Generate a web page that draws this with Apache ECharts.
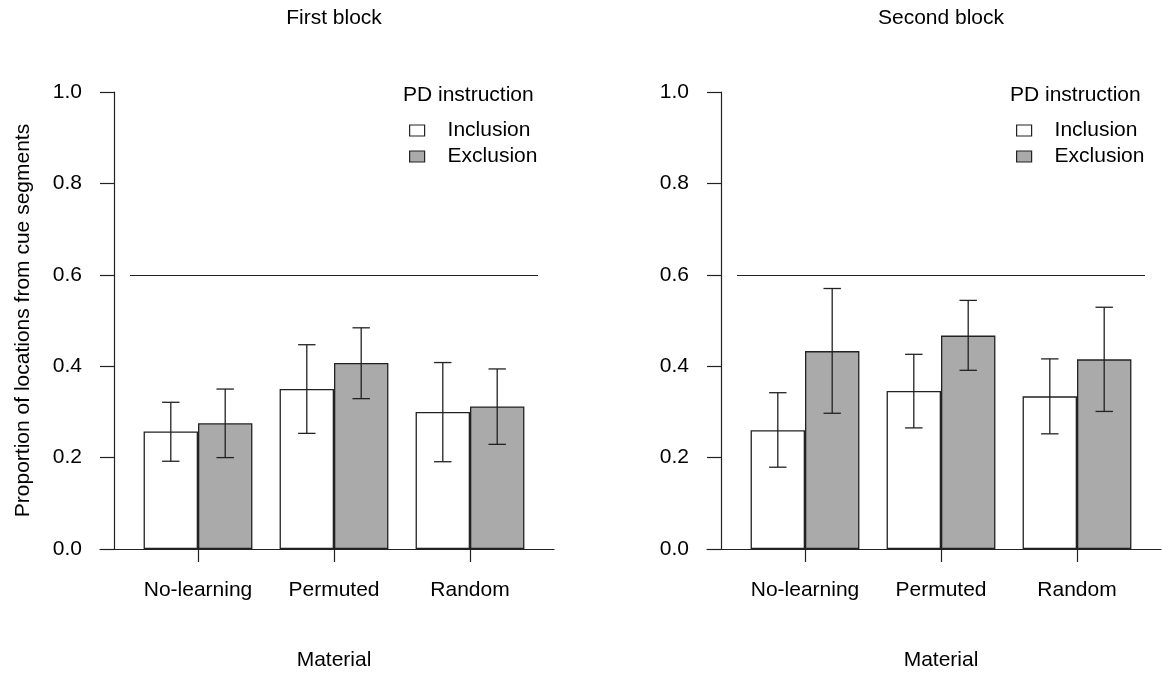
<!DOCTYPE html>
<html><head><meta charset="utf-8">
<script src="https://cdn.jsdelivr.net/npm/echarts@6/dist/echarts.min.js"></script>
<style>html,body{margin:0;padding:0;background:#fff}#c{width:1163px;height:673px}</style>
</head><body><div id="c"></div>
<script>
const categories = ['No-learning', 'Permuted', 'Random'];
const panelTitles = ['First block', 'Second block'];
const legendTitle = 'PD instruction';
const seriesNames = ['Inclusion', 'Exclusion'];
const chanceLevel = 0.6;

// First block
const b1Inclusion = [0.257, 0.350, 0.300];
const b1InclusionLow = [0.192, 0.253, 0.191];
const b1InclusionHigh = [0.321, 0.447, 0.408];
const b1Exclusion = [0.275, 0.407, 0.312];
const b1ExclusionLow = [0.200, 0.329, 0.229];
const b1ExclusionHigh = [0.350, 0.484, 0.394];
// Second block
const b2Inclusion = [0.260, 0.346, 0.334];
const b2InclusionLow = [0.179, 0.265, 0.252];
const b2InclusionHigh = [0.342, 0.426, 0.416];
const b2Exclusion = [0.433, 0.467, 0.415];
const b2ExclusionLow = [0.297, 0.391, 0.301];
const b2ExclusionHigh = [0.570, 0.544, 0.529];

const FONT = '"Liberation Sans", Arial, Helvetica, sans-serif';
const FS = 21;
const INK = '#222';

function errData(low, high, w) {
  return low.map((v, i) => [i, v, high[i], w]);
}
function errRender(params, api) {
  const i = api.value(0), w = api.value(3);
  const band = api.size([1, 0])[0];
  const lo = api.coord([i, api.value(1)]);
  const hi = api.coord([i, api.value(2)]);
  const x = lo[0] + (w === 0 ? -0.2 : 0.2) * band;
  const cap = band * 0.064;
  const style = { stroke: INK, lineWidth: 1.3, fill: null };
  return { type: 'group', children: [
    { type: 'line', shape: { x1: x, y1: hi[1], x2: x, y2: lo[1] }, style },
    { type: 'line', shape: { x1: x - cap, y1: hi[1], x2: x + cap, y2: hi[1] }, style },
    { type: 'line', shape: { x1: x - cap, y1: lo[1], x2: x + cap, y2: lo[1] }, style }
  ]};
}

const panels = [
  { off: 0, inc: b1Inclusion, incLo: b1InclusionLow, incHi: b1InclusionHigh,
    exc: b1Exclusion, excLo: b1ExclusionLow, excHi: b1ExclusionHigh, yName: 'Proportion of locations from cue segments' },
  { off: 607, inc: b2Inclusion, incLo: b2InclusionLow, incHi: b2InclusionHigh,
    exc: b2Exclusion, excLo: b2ExclusionLow, excHi: b2ExclusionHigh, yName: '' }
];

const grid = [], xAxis = [], yAxis = [], series = [], title = [], legend = [];
const txt = { fontFamily: FONT, fontSize: FS, color: '#000', fontWeight: 'normal' };

panels.forEach((p, k) => {
  const g = k * 2;
  grid.push({ left: 130 + p.off, top: 92, width: 408, height: 457, outerBoundsMode: 'none', containLabel: false });
  grid.push({ left: 100 + p.off, top: 92, width: 454, height: 457, outerBoundsMode: 'none', containLabel: false });
  xAxis.push({
    type: 'category', gridIndex: g, data: categories, boundaryGap: true,
    axisLine: { show: true, onZero: false, lineStyle: { color: INK, width: 1.2 } },
    axisTick: { show: true, alignWithLabel: true, length: 13, lineStyle: { color: INK, width: 1.2 } },
    axisLabel: { ...txt, margin: 31, interval: 0 },
    splitLine: { show: false },
    name: 'Material', nameLocation: 'middle', nameGap: 101, nameTextStyle: txt
  });
  xAxis.push({
    type: 'value', gridIndex: g + 1, min: 0, max: 1,
    axisLine: { show: true, onZero: false, lineStyle: { color: INK, width: 1.2 } },
    axisTick: { show: false }, axisLabel: { show: false }, splitLine: { show: false }
  });
  yAxis.push({
    type: 'value', gridIndex: g, min: 0, max: 1, interval: 0.2, offset: 16,
    axisLine: { show: true, lineStyle: { color: INK, width: 1.2 } },
    axisTick: { show: true, length: 14, lineStyle: { color: INK, width: 1.2 } },
    axisLabel: { ...txt, margin: 32, formatter: v => v.toFixed(1) },
    splitLine: { show: false },
    name: p.yName, nameLocation: 'middle', nameGap: 80, nameTextStyle: txt
  });
  yAxis.push({ type: 'value', gridIndex: g + 1, show: false, min: 0, max: 1 });

  series.push({
    type: 'bar', name: seriesNames[0], xAxisIndex: g, yAxisIndex: g, data: p.inc,
    barWidth: '40%', barGap: '0%',
    itemStyle: { color: '#ffffff', borderColor: INK, borderWidth: 1.3 },
    emphasis: { disabled: true },
    markLine: { silent: true, symbol: ['none', 'none'], label: { show: false },
      lineStyle: { color: INK, width: 1.2, type: 'solid' }, emphasis: { disabled: true },
      data: [{ yAxis: chanceLevel }] }
  });
  series.push({
    type: 'bar', name: seriesNames[1], xAxisIndex: g, yAxisIndex: g, data: p.exc,
    barWidth: '40%', barGap: '0%',
    itemStyle: { color: '#aaaaaa', borderColor: INK, borderWidth: 1.3 },
    emphasis: { disabled: true }
  });
  series.push({
    type: 'custom', xAxisIndex: g, yAxisIndex: g, renderItem: errRender, z: 10,
    encode: { x: 0, y: [1, 2] }, data: errData(p.incLo, p.incHi, 0), silent: true
  });
  series.push({
    type: 'custom', xAxisIndex: g, yAxisIndex: g, renderItem: errRender, z: 10,
    encode: { x: 0, y: [1, 2] }, data: errData(p.excLo, p.excHi, 1), silent: true
  });

  title.push({ text: panelTitles[k], left: 334 + p.off, textAlign: 'center', top: 8, padding: 0, textStyle: txt });
  title.push({ text: legendTitle, left: 403 + p.off, top: 85, padding: 0, textStyle: txt });
  legend.push({
    orient: 'vertical', left: 409 + p.off, top: 120, padding: 0, itemGap: 5,
    itemWidth: 15, itemHeight: 11, icon: 'rect', selectedMode: false,
    data: seriesNames,
    itemStyle: { borderColor: INK, borderWidth: 1.2 },
    textStyle: { ...txt, padding: [0, 0, 0, 18] }
  });
});

const chart = echarts.init(document.getElementById('c'), null, { renderer: 'canvas' });
chart.setOption({
  animation: false, backgroundColor: '#ffffff',
  title, legend, grid, xAxis, yAxis, series, tooltip: { show: false }
});
</script></body></html>
